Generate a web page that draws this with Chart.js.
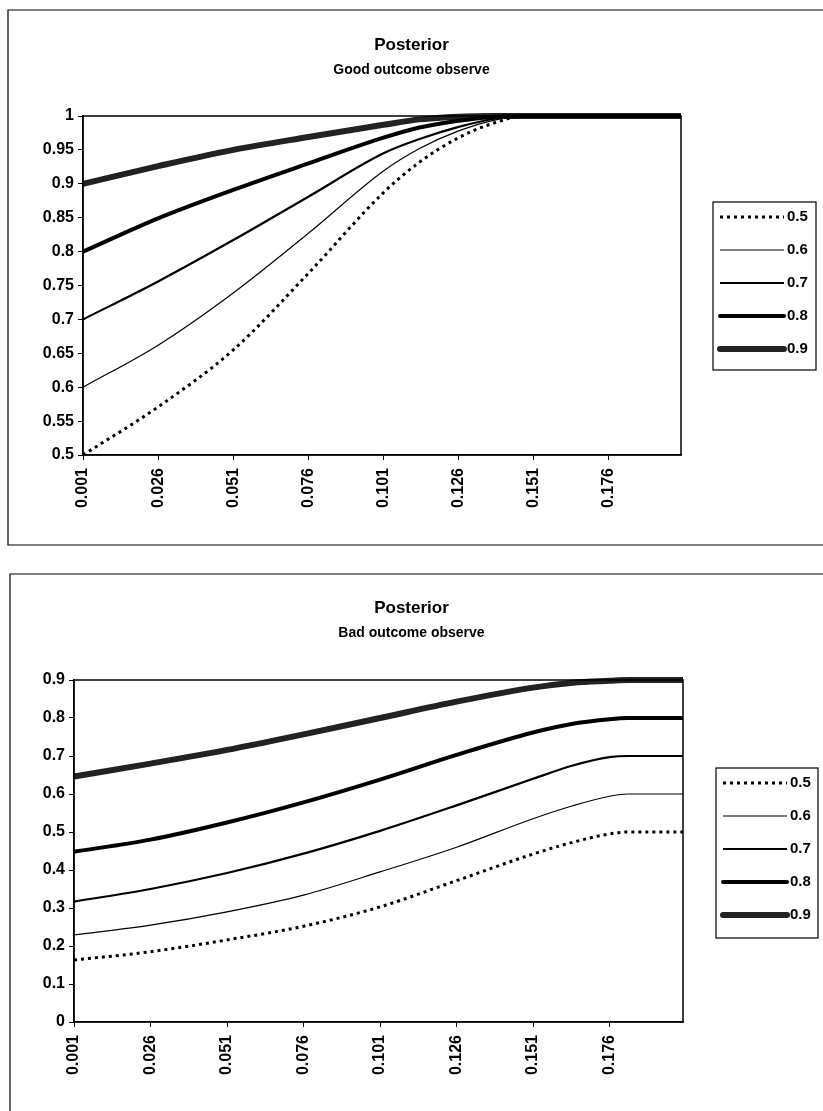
<!DOCTYPE html>
<html>
<head>
<meta charset="utf-8">
<title>Posterior</title>
<script src="https://cdn.jsdelivr.net/npm/chart.js@4.4.1/dist/chart.umd.min.js"></script>
<style>
  body { margin: 0; background: #fff; }
  .box { position: absolute; left: 0; }
  #top { top: 0; }
  #bottom { top: 560px; }
</style>
</head>
<body>
<div class="box" id="top"><canvas id="goodChart" width="823" height="560"></canvas></div>
<div class="box" id="bottom"><canvas id="badChart" width="823" height="551"></canvas></div>
<script>
// series names (prior values)
var priors = ['0.5', '0.6', '0.7', '0.8', '0.9'];
var xTicks = [0.001, 0.026, 0.051, 0.076, 0.101, 0.126, 0.151, 0.176];

var goodX  = [0.001, 0.026, 0.051, 0.076, 0.101, 0.113, 0.126, 0.138, 0.148, 0.200];
var good05 = [0.500, 0.571, 0.655, 0.768, 0.887, 0.932, 0.968, 0.990, 1.000, 1.000];
var good06 = [0.600, 0.662, 0.739, 0.827, 0.919, 0.952, 0.978, 0.994, 1.000, 1.000];
var good07 = [0.700, 0.756, 0.817, 0.881, 0.945, 0.966, 0.984, 0.996, 1.000, 1.000];
var good08 = [0.800, 0.849, 0.891, 0.930, 0.968, 0.983, 0.993, 0.999, 1.000, 1.000];
var good09 = [0.900, 0.926, 0.950, 0.969, 0.987, 0.995, 0.999, 1.000, 1.000, 1.000];
var goodYTicks = [0.5, 0.55, 0.6, 0.65, 0.7, 0.75, 0.8, 0.85, 0.9, 0.95, 1];

// Bad outcome observed
var badX  = [0.001, 0.026, 0.051, 0.076, 0.101, 0.126, 0.151, 0.164, 0.176, 0.182, 0.200];
var bad05 = [0.163, 0.185, 0.216, 0.252, 0.303, 0.372, 0.442, 0.473, 0.495, 0.500, 0.500];
var bad06 = [0.229, 0.255, 0.290, 0.334, 0.395, 0.460, 0.535, 0.569, 0.594, 0.600, 0.600];
var bad07 = [0.317, 0.350, 0.392, 0.443, 0.503, 0.570, 0.640, 0.675, 0.697, 0.700, 0.700];
var bad08 = [0.448, 0.480, 0.525, 0.578, 0.638, 0.703, 0.762, 0.785, 0.797, 0.800, 0.800];
var bad09 = [0.646, 0.680, 0.716, 0.757, 0.800, 0.843, 0.880, 0.893, 0.898, 0.900, 0.900];
var badYTicks = [0, 0.1, 0.2, 0.3, 0.4, 0.5, 0.6, 0.7, 0.8, 0.9];

var FONT = "'Liberation Sans', Arial, sans-serif";

// line look of each prior, same order as priors
var lineStyles = [
  { width: 3, dash: [3, 4] },
  { width: 1.2, dash: [] },
  { width: 2.2, dash: [] },
  { width: 4, dash: [] },
  { width: 6, dash: [] }
];

// draws plot border, outer frame and the boxed legend
var framePlugin = {
  id: 'frame',
  afterDraw: function(chart, args, opts) {
    var ctx = chart.ctx;
    var a = chart.chartArea;
    ctx.save();
    ctx.strokeStyle = '#000';
    ctx.lineWidth = 1.5;
    ctx.setLineDash([]);
    ctx.strokeRect(a.left, a.top, a.right - a.left, a.bottom - a.top);

    // outer frame (left, top, bottom sides)
    var f = opts.outer;
    ctx.lineWidth = 1.2;
    ctx.beginPath();
    ctx.moveTo(chart.width, f.top);
    ctx.lineTo(f.left, f.top);
    ctx.lineTo(f.left, f.bottom);
    if (f.bottom < chart.height) ctx.lineTo(chart.width, f.bottom);
    ctx.stroke();

    // legend
    var lg = opts.legend;
    ctx.lineWidth = 1.2;
    ctx.strokeRect(lg.left, lg.top, lg.right - lg.left, lg.bottom - lg.top);
    ctx.font = 'bold 15px ' + FONT;
    ctx.fillStyle = '#000';
    ctx.textBaseline = 'middle';
    ctx.textAlign = 'left';
    chart.data.datasets.forEach(function(ds, i) {
      var y = lg.firstY + i * lg.step;
      ctx.beginPath();
      ctx.strokeStyle = ds.borderColor;
      ctx.lineWidth = ds.borderWidth;
      ctx.setLineDash(ds.borderDash || []);
      ctx.lineCap = i > 2 ? 'round' : 'butt';
      ctx.moveTo(lg.left + 7, y);
      ctx.lineTo(lg.left + 71, y);
      ctx.stroke();
      ctx.setLineDash([]);
      ctx.fillText(ds.label, lg.left + 74, y);
    });
    ctx.restore();
  }
};

function buildDatasets(xs, series) {
  return series.map(function(vals, i) {
    return {
      label: priors[i],
      yAxisID: 'y',
      data: xs.map(function(x, j) { return { x: x, y: vals[j] }; }),
      borderColor: i === 4 ? '#222' : '#000',
      borderWidth: lineStyles[i].width,
      borderDash: lineStyles[i].dash,
      pointRadius: 0,
      cubicInterpolationMode: 'monotone',
      clip: false
    };
  });
}

function makeChart(id, title, subtitle, xs, series, yTicks, cfg) {
  var tickFont = { family: FONT, size: 16, weight: 'bold' };
  return new Chart(document.getElementById(id), {
    type: 'line',
    data: { datasets: buildDatasets(xs, series) },
    plugins: [framePlugin],
    options: {
      responsive: false,
      animation: false,
      devicePixelRatio: 1,
      events: [],
      layout: { padding: 0 },
      plugins: {
        legend: { display: false },
        tooltip: { enabled: false },
        title: {
          display: true,
          text: title,
          color: '#000',
          font: { family: FONT, size: 17, weight: 'bold', lineHeight: 1.2 },
          padding: { top: cfg.titleTop, bottom: 0 }
        },
        subtitle: {
          display: true,
          text: subtitle,
          color: '#000',
          font: { family: FONT, size: 14, weight: 'bold', lineHeight: 1.2 },
          padding: { top: 7, bottom: cfg.subBottom }
        },
        frame: { outer: cfg.outer, legend: cfg.legend }
      },
      scales: {
        x: {
          type: 'linear',
          min: 0.001,
          max: 0.2,
          afterBuildTicks: function(s) { s.ticks = xTicks.map(function(v) { return { value: v }; }); },
          afterFit: function(s) { s.height = cfg.xHeight; },
          ticks: {
            autoSkip: false,
            minRotation: 90,
            maxRotation: 90,
            padding: 8,
            color: '#000',
            font: tickFont,
            callback: function(v) { return Number(v).toFixed(3); }
          },
          grid: { drawOnChartArea: false, tickLength: 5, color: '#000', lineWidth: 1 },
          border: { color: '#000', width: 1.5 }
        },
        y: {
          type: 'linear',
          position: 'left',
          min: yTicks[0],
          max: yTicks[yTicks.length - 1],
          afterBuildTicks: function(s) { s.ticks = yTicks.map(function(v) { return { value: v }; }); },
          afterFit: function(s) { s.width = cfg.yWidth; },
          ticks: {
            padding: 4,
            color: '#000',
            font: tickFont,
            callback: function(v) { return String(Number(Number(v).toFixed(2))); }
          },
          grid: { drawOnChartArea: false, tickLength: 5, color: '#000', lineWidth: 1 },
          border: { color: '#000', width: 1.5 }
        },
        // empty axis that keeps the room for the legend on the right
        yRight: {
          type: 'linear',
          position: 'right',
          grid: { display: false },
          border: { display: false },
          ticks: { display: false },
          afterFit: function(s) { s.width = cfg.padRight; }
        }
      }
    }
  });
}

makeChart('goodChart', 'Posterior', 'Good outcome observe', goodX,
  [good05, good06, good07, good08, good09], goodYTicks, {
    padRight: 142, yWidth: 83, xHeight: 105, titleTop: 34.8, subBottom: 37,
    outer: { left: 8, top: 10, bottom: 545 },
    legend: { left: 713, top: 202, right: 816, bottom: 370, firstY: 217, step: 33 }
  });

makeChart('badChart', 'Posterior', 'Bad outcome observe', badX,
  [bad05, bad06, bad07, bad08, bad09], badYTicks, {
    padRight: 140, yWidth: 74, xHeight: 89, titleTop: 37.8, subBottom: 38,
    outer: { left: 10, top: 14, bottom: 9999 },
    legend: { left: 716, top: 208, right: 818, bottom: 378, firstY: 223, step: 33 }
  });
</script>
</body>
</html>
